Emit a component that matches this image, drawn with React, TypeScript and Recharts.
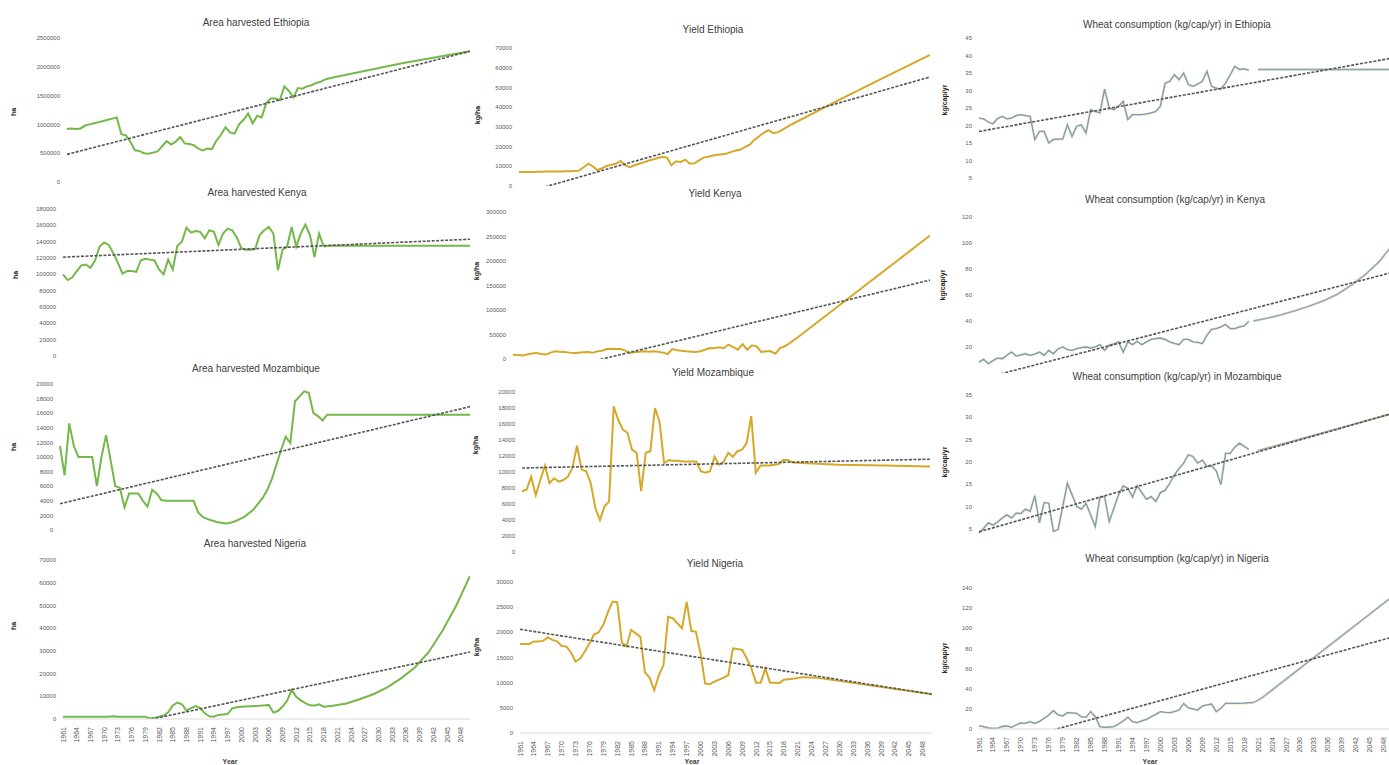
import React from 'react';
import { LineChart, Line, XAxis, YAxis } from 'recharts';

// ---------- categories ----------
const years: number[] = Array.from({ length: 90 }, (_, i) => 1961 + i); // 1961..2050

// ---------- Area harvested (ha) ----------
const areaEthiopiaHist = [
  920000, 930000, 920000, 930000, 980000, 1000000, 1020000, 1040000, 1060000, 1080000,
  1100000, 1120000, 830000, 810000, 700000, 550000, 540000, 500000, 490000, 510000,
  530000, 620000, 710000, 650000, 700000, 780000, 670000, 660000, 640000, 580000,
  550000, 580000, 570000, 720000, 820000, 950000, 860000, 840000, 1000000, 1080000,
  1190000, 1020000, 1150000, 1120000, 1370000, 1450000, 1450000, 1420000, 1660000, 1580000,
  1470000, 1630000, 1620000, 1660000, 1680000, 1720000, 1740000, 1780000, 1800000, 1820000,
];
const areaEthiopiaProj: [number, number][] = [[2020, 1820000], [2035, 2060000], [2050, 2270000]];
const areaEthiopiaTrend: [number, number][] = [[1961, 480000], [2050, 2270000]];
const areaEthiopiaTicks = [0, 500000, 1000000, 1500000, 2000000, 2500000];

const areaKenyaHist = [
  100000, 93000, 96000, 104000, 111000, 112000, 108000, 117000, 134000, 139000,
  136000, 126000, 114000, 101000, 104000, 104000, 103000, 117000, 119000, 118000,
  117000, 106000, 100000, 118000, 106000, 135000, 140000, 157000, 151000, 153000,
  152000, 144000, 154000, 152000, 136000, 150000, 156000, 154000, 145000, 132000,
  130000, 130000, 131000, 148000, 154000, 158000, 150000, 105000, 130000, 134000,
  158000, 134000, 150000, 161000, 148000, 121000, 150000, 134000,
];
const areaKenyaProj: [number, number][] = [[2018, 134000], [2019, 135000], [2050, 135000]];
const areaKenyaTrend: [number, number][] = [[1961, 121000], [2050, 143000]];
const areaKenyaTicks = [0, 20000, 40000, 60000, 80000, 100000, 120000, 140000, 160000, 180000];

const areaMozambiqueHist = [
  11500, 7500, 14600, 11500, 10000, 10000, 10000, 10000, 6000, 10000,
  13000, 9500, 6000, 5800, 3100, 5000, 5000, 5000, 4000, 3200,
  5500, 5000, 4100, 4000, 4000, 4000, 4000, 4000, 4000, 4000,
  2400, 1800, 1500, 1300, 1100, 1000, 900, 1000, 1200, 1500,
  1800, 2300, 2800, 3600, 4400, 5500, 7000, 9000, 11000, 12800,
  11900, 17600, 18300, 19000, 18800, 16000, 15600, 15000, 15800, 15800,
];
const areaMozambiqueProj: [number, number][] = [[2020, 15800], [2050, 15800]];
const areaMozambiqueTrend: [number, number][] = [[1961, 3600], [2050, 16900]];
const areaMozambiqueTicks = [0, 2000, 4000, 6000, 8000, 10000, 12000, 14000, 16000, 18000, 20000];

const areaNigeriaHist = [
  1000, 1000, 1000, 1000, 1000, 1000, 1000, 1000, 1000, 1000,
  1000, 1200, 1000, 1000, 1000, 1000, 1000, 1000, 1000, 200,
  500, 1000, 1500, 3000, 6000, 7200, 6500, 3700, 4800, 5700,
  4800, 2500, 1200, 1000, 1800, 2000, 2200, 4700, 5200, 5400,
  5500, 5600, 5700, 5800, 6000, 6200, 2800, 3500, 5500, 8000,
  12800, 9800, 8200, 7000, 6000, 5900, 6500, 5400, 5600, 5800,
];
const areaNigeriaProj: [number, number][] = [
  [2020, 5800], [2023, 6800], [2026, 8800], [2029, 11000], [2032, 14000], [2035, 18000],
  [2038, 22800], [2041, 29500], [2044, 39000], [2047, 50000], [2050, 63000],
];
const areaNigeriaTrend: [number, number][] = [[1961, -8300], [2050, 29500]];
const areaNigeriaTicks = [0, 10000, 20000, 30000, 40000, 50000, 60000, 70000];

// ---------- Yield (kg/ha) ----------
const yieldEthiopiaHist = [
  7100, 7100, 7100, 7100, 7200, 7200, 7300, 7300, 7400, 7400,
  7500, 7500, 7600, 7800, 9500, 11300, 10000, 8000, 9000, 10200,
  10800, 11300, 12700, 10500, 9600, 10500, 11300, 12000, 12800, 13400,
  14200, 14700, 14500, 10500, 12500, 12200, 13400, 11300, 11500, 13000,
  14400, 14800, 15500, 15800, 16100, 16500, 17300, 18000, 18500, 19800,
  21000, 23500, 25200, 27000, 28300, 26900, 27200, 28500, 29900, 31200,
];
const yieldEthiopiaProj: [number, number][] = [[2020, 31200], [2030, 43300], [2040, 55000], [2050, 66500]];
const yieldEthiopiaTrend: [number, number][] = [[1961, -4200], [2050, 55300]];
const yieldEthiopiaTicks = [0, 10000, 20000, 30000, 40000, 50000, 60000, 70000];

const yieldKenyaHist = [
  8800, 8000, 7000, 9000, 11000, 12000, 10000, 9000, 13000, 15600,
  15000, 14300, 13000, 12200, 13000, 14000, 14300, 13000, 15600, 17000,
  20400, 21000, 20500, 20400, 17000, 12200, 14000, 15000, 15600, 15000,
  15600, 15000, 13000, 10200, 20400, 18000, 17000, 15600, 15000, 14300,
  16000, 19000, 22400, 22000, 23800, 22000, 29300, 24000, 19000, 30600,
  19000, 27900, 25900, 14300, 15600, 15600, 10900, 22400, 26000, 32000,
];
const yieldKenyaProj: [number, number][] = [[2020, 32000], [2022, 46000], [2050, 252000]];
const yieldKenyaTrend: [number, number][] = [[1961, -43700], [2050, 161000]];
const yieldKenyaTicks = [0, 50000, 100000, 150000, 200000, 250000, 300000];

const yieldMozambiqueHist = [
  7600, 7800, 9400, 7100, 9000, 10800, 8600, 9200, 8800, 9000,
  9400, 10500, 13300, 10300, 10100, 8600, 5500, 4000, 5700, 6300,
  18200, 16500, 15300, 14900, 12800, 12400, 7600, 12400, 12600, 18000,
  16300, 11100, 11500, 11400, 11400, 11300, 11300, 11300, 11300, 10100,
  9900, 10100, 11900, 10900, 11300, 12400, 11900, 12600, 12800, 13600,
  17000, 9900, 10800, 10800, 10800, 10900, 11000, 11500, 11500, 11200,
];
const yieldMozambiqueProj: [number, number][] = [[2020, 11200], [2030, 10900], [2040, 10800], [2050, 10700]];
const yieldMozambiqueTrend: [number, number][] = [[1961, 10500], [2050, 11600]];
const yieldMozambiqueTicks = [0, 2000, 4000, 6000, 8000, 10000, 12000, 14000, 16000, 18000, 20000];

const yieldNigeriaHist = [
  17700, 17700, 17700, 18200, 18200, 18300, 19000, 18500, 18200, 17300,
  17200, 16000, 14200, 14800, 16200, 17800, 19600, 20000, 21500, 24000,
  26100, 26000, 18000, 17200, 20500, 19800, 19100, 12000, 11000, 8500,
  11500, 13500, 23100, 22800, 21800, 20800, 26100, 20300, 20100, 15800,
  9800, 9700, 10200, 10600, 11000, 11500, 16800, 16700, 16500, 14800,
  12800, 10000, 10000, 12800, 10000, 10000, 9900, 10600, 10700, 10800,
];
const yieldNigeriaProj: [number, number][] = [[2020, 10800], [2022, 11100], [2025, 11000], [2050, 7700]];
const yieldNigeriaTrend: [number, number][] = [[1961, 20600], [2050, 7700]];
const yieldNigeriaTicks = [0, 5000, 10000, 15000, 20000, 25000, 30000];

// ---------- Wheat consumption (kg/cap/yr) ----------
const consEthiopiaHist = [
  22.1, 21.9, 21.0, 20.5, 22.0, 22.6, 21.9, 22.1, 22.8, 23.1,
  22.8, 22.6, 16.0, 18.3, 18.3, 15.0, 16.0, 16.1, 16.1, 20.2,
  16.9, 19.8, 20.2, 17.9, 24.5, 24.0, 23.6, 30.4, 25.0, 24.5,
  25.5, 26.9, 21.7, 23.1, 23.1, 23.1, 23.3, 23.6, 24.0, 25.5,
  32.1, 32.6, 34.5, 33.1, 35.0, 31.7, 31.2, 31.8, 32.6, 35.5,
  31.2, 30.7, 30.4, 32.1, 34.5, 36.9, 36.0, 36.2, 35.8,
];
const consEthiopiaProj: [number, number][] = [[2021, 36], [2050, 36]];
const consEthiopiaTrend: [number, number][] = [[1961, 18.3], [2050, 39.3]];
const consEthiopiaTicks = [5, 10, 15, 20, 25, 30, 35, 40, 45];

const consKenyaHist = [
  8.4, 10.5, 7.1, 9.5, 11.5, 11.0, 13.6, 16.1, 13.0, 14.0,
  14.8, 13.6, 14.5, 16.1, 13.6, 17.4, 14.8, 18.7, 20.0, 18.0,
  17.4, 18.7, 19.5, 20.0, 19.2, 20.0, 21.8, 17.4, 21.3, 22.5,
  23.9, 16.1, 23.9, 21.8, 24.4, 21.8, 23.9, 25.9, 26.4, 26.9,
  25.9, 23.9, 22.8, 21.8, 25.9, 25.9, 23.9, 23.5, 22.6, 29.0,
  33.6, 34.2, 35.5, 37.3, 34.2, 34.2, 35.5, 36.2, 39.8,
];
const consKenyaProj: [number, number][] = [
  [2020, 40.0], [2023, 42.2], [2026, 44.8], [2029, 48.0], [2032, 51.5], [2035, 55.5],
  [2038, 60.5], [2041, 67.5], [2044, 75.5], [2047, 85.5], [2050, 99],
];
const consKenyaTrend: [number, number][] = [[1961, -5], [2050, 77.5]];
const consKenyaTicks = [20, 40, 60, 80, 100, 120];

const consMozambiqueHist = [
  4.0, 5.1, 6.3, 5.8, 6.5, 7.4, 8.1, 7.4, 8.5, 8.4,
  9.4, 8.9, 12.4, 6.3, 10.9, 10.7, 4.4, 4.8, 10.0, 15.2,
  12.6, 10.0, 9.4, 10.7, 8.1, 5.5, 12.1, 12.2, 6.6, 9.6,
  12.6, 14.6, 14.1, 12.1, 14.6, 13.1, 11.6, 12.2, 11.1, 13.1,
  13.6, 15.2, 17.1, 18.5, 19.7, 21.6, 21.2, 19.7, 20.4, 19.0,
  19.1, 18.0, 14.9, 21.9, 21.9, 23.3, 24.2, 23.5, 22.8,
];
const consMozambiqueProj: [number, number][] = [[2021, 22.5], [2050, 30.9]];
const consMozambiqueTrend: [number, number][] = [[1961, 4.3], [2050, 30.9]];
const consMozambiqueTicks = [5, 10, 15, 20, 25, 30, 35];

const consNigeriaHist = [
  3.0, 2.3, 1.0, 0.7, 0.7, 2.5, 3.0, 1.7, 4.0, 6.0,
  5.6, 7.3, 5.6, 7.5, 10.6, 13.9, 18.2, 14.0, 12.9, 16.2,
  16.0, 15.5, 12.2, 11.6, 17.2, 12.2, 2.3, 1.7, 2.0, 2.3,
  5.0, 8.0, 11.6, 7.3, 6.3, 8.0, 9.6, 12.2, 14.5, 17.2,
  16.5, 16.2, 17.2, 18.8, 25.4, 21.0, 20.0, 18.8, 22.8, 24.0,
  24.8, 17.2, 20.5, 25.4, 25.4, 25.4, 25.4, 25.6, 26.1, 26.1,
];
const consNigeriaProj: [number, number][] = [[2020, 26.1], [2022, 31.5], [2050, 132]];
const consNigeriaTrend: [number, number][] = [[1961, -21.1], [2050, 91.4]];
const consNigeriaTicks = [0, 20, 40, 60, 80, 100, 120, 140];

// ---------- table builder ----------
function buildRows(hist: number[], proj: [number, number][], trend: [number, number][]) {
  return years.map((yr, i) => {
    const p = proj.find((k) => k[0] === yr);
    const t = trend.find((k) => k[0] === yr);
    return {
      year: yr,
      hist: i < hist.length ? hist[i] : null,
      proj: p ? p[1] : null,
      trend: t ? t[1] : null,
    };
  });
}

type Kind = 'area' | 'yield' | 'cons';
interface Panel {
  title: string; tx: number; ty: number;
  unit: string; ux: number; uy: number;
  x0: number; x1: number; yTop: number; yBottom: number;
  ticks: number[]; max: number; kind: Kind; bottom: boolean; axisLine: boolean;
  rows: any[]; yearX?: number;
}

const panels: Panel[] = [
  { title: 'Area harvested Ethiopia', tx: 256, ty: 23, unit: 'ha', ux: 14, uy: 112, x0: 67, x1: 470, yTop: 38, yBottom: 182, ticks: areaEthiopiaTicks, max: 2500000, kind: 'area', bottom: false, axisLine: true, rows: buildRows(areaEthiopiaHist, areaEthiopiaProj, areaEthiopiaTrend) },
  { title: 'Area harvested Kenya', tx: 257, ty: 193, unit: 'ha', ux: 16, uy: 275, x0: 63, x1: 470, yTop: 209, yBottom: 356, ticks: areaKenyaTicks, max: 180000, kind: 'area', bottom: false, axisLine: true, rows: buildRows(areaKenyaHist, areaKenyaProj, areaKenyaTrend) },
  { title: 'Area harvested Mozambique', tx: 256, ty: 369, unit: 'ha', ux: 14, uy: 447, x0: 60, x1: 470, yTop: 384, yBottom: 530, ticks: areaMozambiqueTicks, max: 20000, kind: 'area', bottom: false, axisLine: true, rows: buildRows(areaMozambiqueHist, areaMozambiqueProj, areaMozambiqueTrend) },
  { title: 'Area harvested Nigeria', tx: 255, ty: 544, unit: 'ha', ux: 14, uy: 626, x0: 63, x1: 470, yTop: 560, yBottom: 719, ticks: areaNigeriaTicks, max: 70000, kind: 'area', bottom: true, axisLine: true, rows: buildRows(areaNigeriaHist, areaNigeriaProj, areaNigeriaTrend), yearX: 230 },
  { title: 'Yield Ethiopia', tx: 713, ty: 30, unit: 'kg/ha', ux: 478, uy: 115, x0: 519, x1: 930, yTop: 48, yBottom: 186, ticks: yieldEthiopiaTicks, max: 70000, kind: 'yield', bottom: false, axisLine: true, rows: buildRows(yieldEthiopiaHist, yieldEthiopiaProj, yieldEthiopiaTrend) },
  { title: 'Yield Kenya', tx: 715, ty: 194, unit: 'kg/ha', ux: 477, uy: 271, x0: 513, x1: 930, yTop: 212, yBottom: 359, ticks: yieldKenyaTicks, max: 300000, kind: 'yield', bottom: false, axisLine: true, rows: buildRows(yieldKenyaHist, yieldKenyaProj, yieldKenyaTrend) },
  { title: 'Yield Mozambique', tx: 713, ty: 373, unit: 'kg/ha', ux: 476, uy: 445, x0: 522, x1: 930, yTop: 392, yBottom: 552, ticks: yieldMozambiqueTicks, max: 20000, kind: 'yield', bottom: false, axisLine: true, rows: buildRows(yieldMozambiqueHist, yieldMozambiqueProj, yieldMozambiqueTrend) },
  { title: 'Yield Nigeria', tx: 715, ty: 564, unit: 'kg/ha', ux: 477, uy: 647, x0: 520, x1: 932, yTop: 582, yBottom: 733, ticks: yieldNigeriaTicks, max: 30000, kind: 'yield', bottom: true, axisLine: true, rows: buildRows(yieldNigeriaHist, yieldNigeriaProj, yieldNigeriaTrend), yearX: 692 },
  { title: 'Wheat consumption (kg/cap/yr) in Ethiopia', tx: 1177, ty: 25, unit: 'kg/cap/yr', ux: 945, uy: 100, x0: 979, x1: 1393, yTop: 38, yBottom: 195.5, ticks: consEthiopiaTicks, max: 45, kind: 'cons', bottom: false, axisLine: false, rows: buildRows(consEthiopiaHist, consEthiopiaProj, consEthiopiaTrend) },
  { title: 'Wheat consumption (kg/cap/yr) in Kenya', tx: 1175, ty: 200, unit: 'kg/cap/yr', ux: 943, uy: 285, x0: 979, x1: 1393, yTop: 217, yBottom: 373, ticks: consKenyaTicks, max: 120, kind: 'cons', bottom: false, axisLine: false, rows: buildRows(consKenyaHist, consKenyaProj, consKenyaTrend) },
  { title: 'Wheat consumption (kg/cap/yr) in Mozambique', tx: 1177, ty: 377, unit: 'kg/cap/yr', ux: 945, uy: 462, x0: 979, x1: 1393, yTop: 395, yBottom: 551, ticks: consMozambiqueTicks, max: 35, kind: 'cons', bottom: false, axisLine: false, rows: buildRows(consMozambiqueHist, consMozambiqueProj, consMozambiqueTrend) },
  { title: 'Wheat consumption (kg/cap/yr) in Nigeria', tx: 1177, ty: 559, unit: 'kg/cap/yr', ux: 945, uy: 658, x0: 979, x1: 1393, yTop: 588, yBottom: 729, ticks: consNigeriaTicks, max: 140, kind: 'cons', bottom: true, axisLine: true, rows: buildRows(consNigeriaHist, consNigeriaProj, consNigeriaTrend), yearX: 1150 },
];

const FONT = '"Liberation Sans", Arial, sans-serif';
const Y_AXIS_W = 50;
const TOP_PAD = 6;

const YearTick = (props: any) => {
  const { x, y, payload } = props;
  return (
    <text
      x={x}
      y={y}
      transform={`rotate(-90 ${x} ${y})`}
      textAnchor="end"
      dominantBaseline="central"
      fontSize={7}
      fill="#595959"
      fontFamily={FONT}
    >
      {payload.value}
    </text>
  );
};

function PanelChart({ p }: { p: Panel }) {
  const plotH = p.yBottom - p.yTop;
  const xH = p.bottom ? 40 : 0;
  const width = p.x1 - p.x0 + Y_AXIS_W;
  const height = TOP_PAD + plotH + xH + 2;
  const mainColor = p.kind === 'area' ? '#74b84a' : '#d6a82a';
  return (
    <>
      <div style={{ position: 'absolute', left: p.x0 - Y_AXIS_W, top: p.yTop - TOP_PAD }}>
        <LineChart width={width} height={height} data={p.rows} margin={{ top: TOP_PAD, right: 0, bottom: 2, left: 0 }}>
          {p.bottom ? (
            <XAxis
              dataKey="year"
              interval={2}
              tickSize={0}
              tickMargin={8}
              tickLine={false}
              axisLine={{ stroke: '#d9d9d9' }}
              tick={<YearTick />}
              height={xH}
            />
          ) : (
            <XAxis
              dataKey="year"
              tick={false}
              tickLine={false}
              axisLine={p.axisLine ? { stroke: '#d9d9d9' } : false}
              height={0}
            />
          )}
          <YAxis
            type="number"
            domain={[0, p.max]}
            ticks={p.ticks}
            interval={0}
            allowDataOverflow
            width={Y_AXIS_W}
            tickSize={0}
            tickMargin={7}
            axisLine={false}
            tickLine={false}
            tick={{ fontSize: 6, fill: '#595959', fontFamily: FONT }}
          />
          {p.kind === 'cons' ? (
            <>
              <Line dataKey="hist" stroke="#ece89c" strokeWidth={2.4} dot={false} activeDot={false} isAnimationActive={false} />
              <Line dataKey="hist" stroke="#7b98d0" strokeWidth={1.3} dot={false} activeDot={false} isAnimationActive={false} />
              <Line dataKey="proj" stroke="#e3e0a6" strokeWidth={2.4} dot={false} activeDot={false} connectNulls isAnimationActive={false} />
              <Line dataKey="proj" stroke="#8fa6c8" strokeWidth={1.3} dot={false} activeDot={false} connectNulls isAnimationActive={false} />
            </>
          ) : (
            <>
              <Line dataKey="hist" stroke={mainColor} strokeWidth={2} dot={false} activeDot={false} isAnimationActive={false} />
              <Line dataKey="proj" stroke={mainColor} strokeWidth={2} dot={false} activeDot={false} connectNulls isAnimationActive={false} />
            </>
          )}
          <Line
            dataKey="trend"
            stroke="#555555"
            strokeWidth={1.6}
            strokeDasharray="3 1.5"
            dot={false}
            activeDot={false}
            connectNulls
            isAnimationActive={false}
          />
        </LineChart>
      </div>
      <div
        style={{
          position: 'absolute', left: p.tx - 200, top: p.ty - 7, width: 400, height: 14,
          lineHeight: '14px', textAlign: 'center', fontSize: 10, color: '#404040', fontFamily: FONT,
          whiteSpace: 'nowrap',
        }}
      >
        {p.title}
      </div>
      <div
        style={{
          position: 'absolute', left: p.ux - 30, top: p.uy - 5, width: 60, height: 10,
          lineHeight: '10px', textAlign: 'center', fontSize: 7, fontWeight: 'bold', color: '#262626',
          fontFamily: FONT, transform: 'rotate(-90deg)', whiteSpace: 'nowrap',
        }}
      >
        {p.unit}
      </div>
      {p.bottom && (
        <div
          style={{
            position: 'absolute', left: (p.yearX || 0) - 20, top: 757, width: 40, height: 10,
            lineHeight: '10px', textAlign: 'center', fontSize: 7, fontWeight: 'bold', color: '#404040',
            fontFamily: FONT,
          }}
        >
          Year
        </div>
      )}
    </>
  );
}

export default function App() {
  return (
    <div
      style={{
        position: 'absolute', left: 0, top: 0, width: 1389, height: 765, overflow: 'hidden',
        background: '#ffffff', fontFamily: FONT,
      }}
    >
      {panels.map((p) => (
        <PanelChart key={p.title} p={p} />
      ))}
    </div>
  );
}
